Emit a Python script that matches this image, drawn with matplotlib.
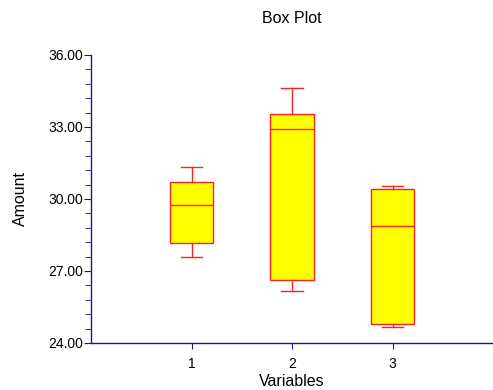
import matplotlib
matplotlib.use("Agg")
import matplotlib.pyplot as plt
from matplotlib.ticker import MultipleLocator

plt.rcParams['font.family'] = ['Liberation Sans', 'DejaVu Sans']

variables = ["1", "2", "3"]
whisker_low = [27.60, 26.15, 24.68]
q1 = [28.15, 26.61, 24.79]
median = [29.74, 32.92, 28.88]
q3 = [30.72, 33.54, 30.40]
whisker_high = [31.33, 34.62, 30.54]

navy = '#1a1a8c'
fig = plt.figure(figsize=(4.93, 3.90), dpi=100)
ax = fig.add_axes([91/493, 1 - 343/390, (493-91)/493, (343-55)/390])

stats = []
for i, name in enumerate(variables):
    stats.append(dict(label=name, whislo=whisker_low[i], q1=q1[i], med=median[i],
                      q3=q3[i], whishi=whisker_high[i], fliers=[]))

ax.bxp(stats, positions=[1, 2, 3], widths=0.43, patch_artist=True, showfliers=False,
       boxprops=dict(facecolor='#ffff00', edgecolor='#ff2020', linewidth=1.0),
       medianprops=dict(color='#ff2020', linewidth=1.0),
       whiskerprops=dict(color='#ff2020', linewidth=1.0),
       capprops=dict(color='#ff2020', linewidth=1.0),
       capwidths=0.21)

ax.set_xlim(0, 4)
ax.set_ylim(24, 36)
ax.set_xticks([1, 2, 3])
ax.set_xticklabels(variables)
ax.yaxis.set_major_locator(MultipleLocator(3))
ax.yaxis.set_minor_locator(MultipleLocator(0.6))
ax.set_yticklabels([f"{v:.2f}" for v in ax.get_yticks()])

for s in ['top', 'right']:
    ax.spines[s].set_visible(False)
for s in ['left', 'bottom']:
    ax.spines[s].set_color(navy)
    ax.spines[s].set_linewidth(1.0)

ax.tick_params(axis='both', which='both', colors=navy, labelcolor='black', labelsize=10, direction='out')
ax.tick_params(axis='y', which='major', length=5, pad=1)
ax.tick_params(axis='y', which='minor', length=4)
ax.tick_params(axis='x', which='major', length=4, pad=6)

label_size = 11.5
ax.set_xlabel("Variables", fontsize=label_size)
ax.set_ylabel("Amount", fontsize=label_size)
ax.xaxis.label.set_verticalalignment('baseline')
ax.xaxis.set_label_coords(0.5, -(386 - 343) / 288)
ax.yaxis.set_label_coords(-0.158, 0.5)
ax.set_title("Box Plot", fontsize=label_size, pad=23)

fig.savefig("out.png", dpi=100)
